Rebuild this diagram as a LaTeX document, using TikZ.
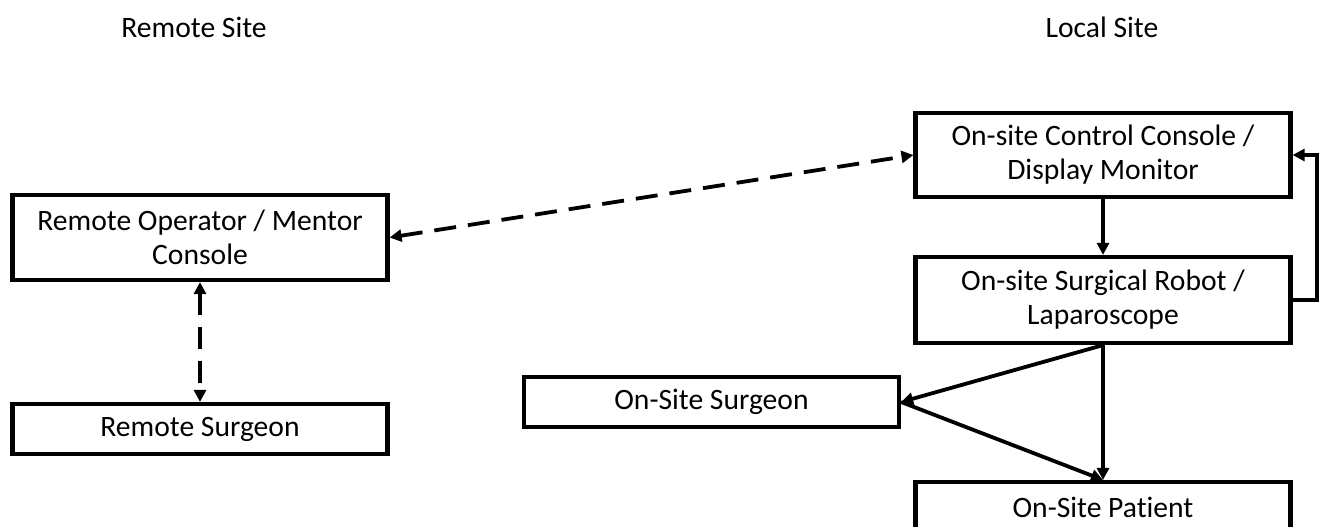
\documentclass[tikz,border=0pt]{standalone}
\usepackage{fontspec}
\setmainfont[Ligatures=NoCommon]{Carlito}
\usetikzlibrary{arrows.meta,positioning}
\tikzset{
    sitebox/.style={draw, line width=2.1pt, align=center, inner sep=0pt,
        font=\fontsize{14.8}{17}\selectfont,
        minimum width=187.5pt, minimum height=25pt},
    sitetitle/.style={font=\fontsize{14.8}{17}\selectfont},
    flowarrow/.style={-{Triangle[length=6pt,width=6pt]}, line width=1.9pt},
    linkarrow/.style={{Triangle[length=6pt,width=6pt]}-{Triangle[length=6pt,width=6pt]},
        line width=1.9pt, dash pattern=on 11pt off 6pt}
}

\begin{document}
\begin{tikzpicture}[x=0.5pt, y=-0.5pt]
\clip (0,0) rectangle (1325,526);
% site titles
\node[sitetitle] (remotetitle) at (194,27) {Remote Site};
\node[sitetitle] (localtitle) at (1102,27) {Local Site};
% remote site
\node[sitebox, minimum height=42.5pt] (mentor) at (200,237.5) {Remote Operator / Mentor\\Console};
\node[sitebox] (rsurgeon) at (200,429) {Remote Surgeon};
% local site
\node[sitebox, minimum height=42pt] (console) at (1103,155) {On-site Control Console /\\Display Monitor};
\node[sitebox, minimum height=43pt] (robot) at (1103,300) {On-site Surgical Robot /\\Laparoscope};
\node[sitebox] (osurgeon) at (711.5,402) {On-Site Surgeon};
\node[sitebox] (patient) at (1103,507) {On-Site Patient};
\coordinate (loop) at (1317,300);
% links
\draw[linkarrow] (mentor.east) -- (console.west);
\draw[linkarrow] (mentor.south) -- (rsurgeon.north);
\draw[flowarrow] (console) -- (robot);
\draw[flowarrow] (robot.east) -- (loop) |- (console.east);
\draw[flowarrow] (robot.south) -- (osurgeon.east);
\draw[flowarrow] (osurgeon.east) -- (patient.north);
\draw[flowarrow] (robot) -- (patient);
\end{tikzpicture}
\end{document}
